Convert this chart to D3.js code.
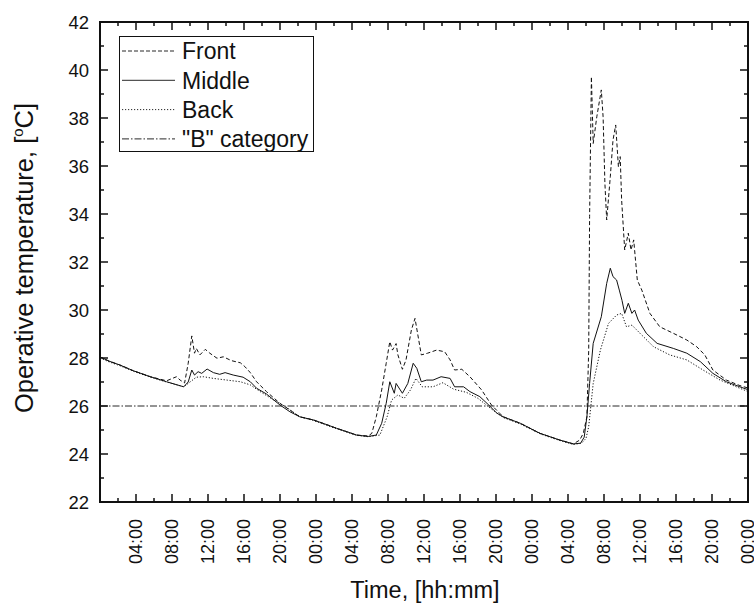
<!DOCTYPE html>
<html><head><meta charset="utf-8">
<script src="https://cdn.jsdelivr.net/npm/d3@7"></script>
<style>
body{margin:0;background:#fff;}
text{font-family:Arial,"Liberation Sans",sans-serif;fill:#111;}
</style></head>
<body><svg id="c" width="754" height="605"></svg>
<script>
// time in hours from start, temperature in °C
const front = [[0,28.05],[1,27.87],[2.2,27.71],[3.7,27.47],[5.6,27.22],[7.4,27.05],[8.5,27.22],[8.9,27.08],[9.4,26.96],[9.8,27.78],[10.2,28.92],[10.5,28.2],[10.7,28.4],[11.1,28.13],[11.7,28.36],[12.2,28.2],[13.0,27.99],[13.7,28.05],[14.6,27.89],[15.6,27.8],[16.1,27.64],[16.7,27.39],[17.4,27.01],[18.5,26.6],[20.0,26.11],[21.1,25.83],[22.2,25.55],[23.7,25.42],[25,25.25],[26.3,25.07],[27.5,24.92],[28.5,24.79],[29.8,24.75],[30.2,24.86],[30.7,25.55],[31.3,26.67],[31.8,27.78],[32.2,28.68],[32.5,28.33],[32.9,28.6],[33.1,28.13],[33.6,27.53],[34.0,27.92],[34.6,29.17],[35.0,29.65],[35.7,28.13],[36.4,28.2],[37.4,28.33],[38.3,28.26],[38.9,27.92],[39.4,27.5],[40.2,27.53],[41.1,27.22],[42.4,26.67],[43.5,26.04],[44.4,25.7],[44.8,25.55],[46.7,25.28],[48.9,24.86],[51.1,24.58],[52.6,24.42],[53.3,24.58],[53.7,24.86],[54.1,25.55],[54.3,28.33],[54.4,33.89],[54.6,39.72],[54.8,36.94],[55.2,38.05],[55.7,39.17],[55.9,38.05],[56.1,35.28],[56.3,33.75],[56.7,35.55],[57.0,37.08],[57.3,37.71],[57.6,35.97],[57.8,36.39],[57.96,34.58],[58.3,32.5],[58.7,33.2],[59.0,32.5],[59.3,32.92],[59.7,31.25],[60.2,30.83],[61.1,29.86],[62.2,29.3],[63.7,29.03],[65.2,28.75],[66.3,28.47],[67.2,28.13],[68.1,27.5],[69.6,27.08],[71.1,26.85],[72,26.75]];
const middle = [[0,28.05],[1,27.87],[2.2,27.71],[3.7,27.47],[5.6,27.22],[7.4,27.01],[9.3,26.8],[9.8,27.0],[10.2,27.5],[10.5,27.29],[10.9,27.43],[11.3,27.36],[11.9,27.54],[12.6,27.39],[13.3,27.32],[13.9,27.39],[14.8,27.29],[15.9,27.2],[16.7,27.01],[17.4,26.74],[18.5,26.5],[20.0,26.04],[21.1,25.76],[22.2,25.55],[23.7,25.42],[25,25.25],[26.3,25.07],[27.5,24.92],[28.5,24.79],[29.8,24.73],[30.7,24.79],[31.3,25.28],[31.8,26.11],[32.2,27.01],[32.7,26.53],[32.9,26.94],[33.6,26.53],[34.2,26.94],[34.8,27.78],[35.2,27.57],[35.7,27.01],[36.3,27.08],[37.0,27.08],[37.9,27.22],[38.9,27.15],[39.4,26.8],[40.4,26.8],[41.1,26.6],[42.2,26.39],[43.0,26.11],[44.1,25.7],[44.8,25.55],[46.7,25.28],[48.9,24.86],[51.1,24.58],[52.6,24.42],[53.4,24.45],[53.8,24.7],[54.1,25.55],[54.4,26.94],[54.8,28.61],[55.7,29.72],[56.3,31.11],[56.7,31.74],[57.0,31.39],[57.4,31.25],[57.7,30.83],[58.0,30.4],[58.3,29.86],[58.7,30.28],[59.1,29.86],[59.4,30.0],[59.8,29.58],[60.7,29.03],[61.9,28.61],[63.7,28.4],[65.2,28.2],[66.7,27.85],[68.1,27.36],[69.6,27.01],[71.1,26.8],[72,26.68]];
const back = [[0,28.0],[1,27.84],[2.2,27.68],[3.7,27.45],[5.6,27.2],[7.4,27.0],[9.3,26.8],[10.0,27.0],[10.7,27.2],[11.5,27.22],[12.6,27.15],[14.1,27.08],[15.6,27.01],[16.7,26.88],[17.8,26.6],[19.3,26.25],[20.7,25.95],[22.2,25.55],[23.7,25.4],[25,25.22],[26.3,25.05],[27.5,24.9],[28.5,24.78],[29.8,24.72],[31.1,24.79],[31.9,25.55],[32.4,26.25],[33.1,26.46],[33.8,26.32],[34.5,26.67],[35.1,27.15],[35.8,26.8],[37.0,26.8],[38.1,26.97],[39.3,26.7],[40.7,26.57],[42.0,26.32],[43.4,25.9],[44.4,25.63],[44.8,25.52],[46.7,25.25],[48.9,24.84],[51.1,24.56],[52.6,24.4],[53.5,24.45],[54.0,24.65],[54.3,25.14],[54.8,26.94],[55.6,28.33],[56.5,29.44],[57.4,29.79],[57.96,29.86],[58.5,29.3],[59.1,29.37],[60.0,29.03],[61.5,28.47],[63.3,28.13],[65.2,27.92],[67.0,27.5],[68.9,27.08],[70.7,26.8],[72,26.6]];
const bCategory = 26;
const seriesNames = ["Front","Middle","Back","\"B\" category"];
const xTickLabels = ["04:00","08:00","12:00","16:00","20:00","00:00","04:00","08:00","12:00","16:00","20:00","00:00","04:00","08:00","12:00","16:00","20:00","00:00"];
const yTicks = [22,24,26,28,30,32,34,36,38,40,42];

const svg = d3.select("#c");
const L=100, R=748, T=22, B=502;
const x = d3.scaleLinear().domain([0,72]).range([L,R]);
const y = d3.scaleLinear().domain([22,42]).range([B,T]);
const ink = "#111";

const line = d3.line().x(d=>x(d[0])).y(d=>y(d[1]));
const styles = [
  {data:front, dash:"4,2.5", w:1},
  {data:middle, dash:null, w:1},
  {data:back, dash:"1.2,1.8", w:1}
];
styles.forEach(s=>{
  svg.append("path").attr("d",line(s.data)).attr("fill","none")
    .attr("stroke",ink).attr("stroke-width",s.w)
    .attr("stroke-dasharray",s.dash);
});
svg.append("line").attr("x1",x(0)).attr("x2",x(72)).attr("y1",y(bCategory)).attr("y2",y(bCategory))
  .attr("stroke",ink).attr("stroke-width",0.9).attr("stroke-dasharray","7,2,1.5,2");

// frame
svg.append("rect").attr("x",L).attr("y",T).attr("width",R-L).attr("height",B-T)
  .attr("fill","none").attr("stroke",ink).attr("stroke-width",2);

// ticks
const xMinor = d3.range(0,73,2);
const yMinor = d3.range(22,43,1);
const g = svg.append("g").attr("stroke",ink).attr("stroke-width",1.5);
xMinor.forEach(t=>{
  const len = (t%4===0)?8:4;
  g.append("line").attr("x1",x(t)).attr("x2",x(t)).attr("y1",B).attr("y2",B-len);
  g.append("line").attr("x1",x(t)).attr("x2",x(t)).attr("y1",T).attr("y2",T+len);
});
yMinor.forEach(v=>{
  const len = (v%2===0)?8:4;
  g.append("line").attr("x1",L).attr("x2",L+len).attr("y1",y(v)).attr("y2",y(v));
  g.append("line").attr("x1",R).attr("x2",R-len).attr("y1",y(v)).attr("y2",y(v));
});

// y labels
yTicks.forEach(v=>{
  svg.append("text").attr("x",L-11).attr("y",y(v)).attr("dy","0.36em")
    .attr("text-anchor","end").attr("font-size",18.5).text(v);
});
// x labels
xTickLabels.forEach((lab,i)=>{
  const t=(i+1)*4;
  svg.append("text").attr("transform",`translate(${x(t)},519) rotate(-90)`)
    .attr("dy","0.36em").attr("text-anchor","end").attr("font-size",18).text(lab);
});
// titles
svg.append("text").attr("x",425).attr("y",598).attr("text-anchor","middle")
  .attr("font-size",23.5).text("Time, [hh:mm]");
const yt = svg.append("text").attr("transform",`translate(33,258) rotate(-90)`)
  .attr("text-anchor","middle").attr("font-size",25.5);
yt.append("tspan").text("Operative temperature, [");
yt.append("tspan").attr("font-size",15).attr("dy",-10).text("o");
yt.append("tspan").attr("dy",10).text("C]");

// legend
const lg = svg.append("g");
lg.append("rect").attr("x",119.5).attr("y",36.5).attr("width",194).attr("height",115)
  .attr("fill","#fff").attr("stroke",ink).attr("stroke-width",1);
const dashes = ["4,2","",  "1.2,1.8","7,2,1.5,2"];
seriesNames.forEach((n,i)=>{
  const yy = 51 + i*29.3;
  lg.append("line").attr("x1",122).attr("x2",175).attr("y1",yy).attr("y2",yy)
    .attr("stroke",ink).attr("stroke-width",0.9).attr("stroke-dasharray",dashes[i]||null);
  lg.append("text").attr("x",182).attr("y",yy).attr("dy","0.36em").attr("font-size",23).text(n);
});
</script></body></html>
